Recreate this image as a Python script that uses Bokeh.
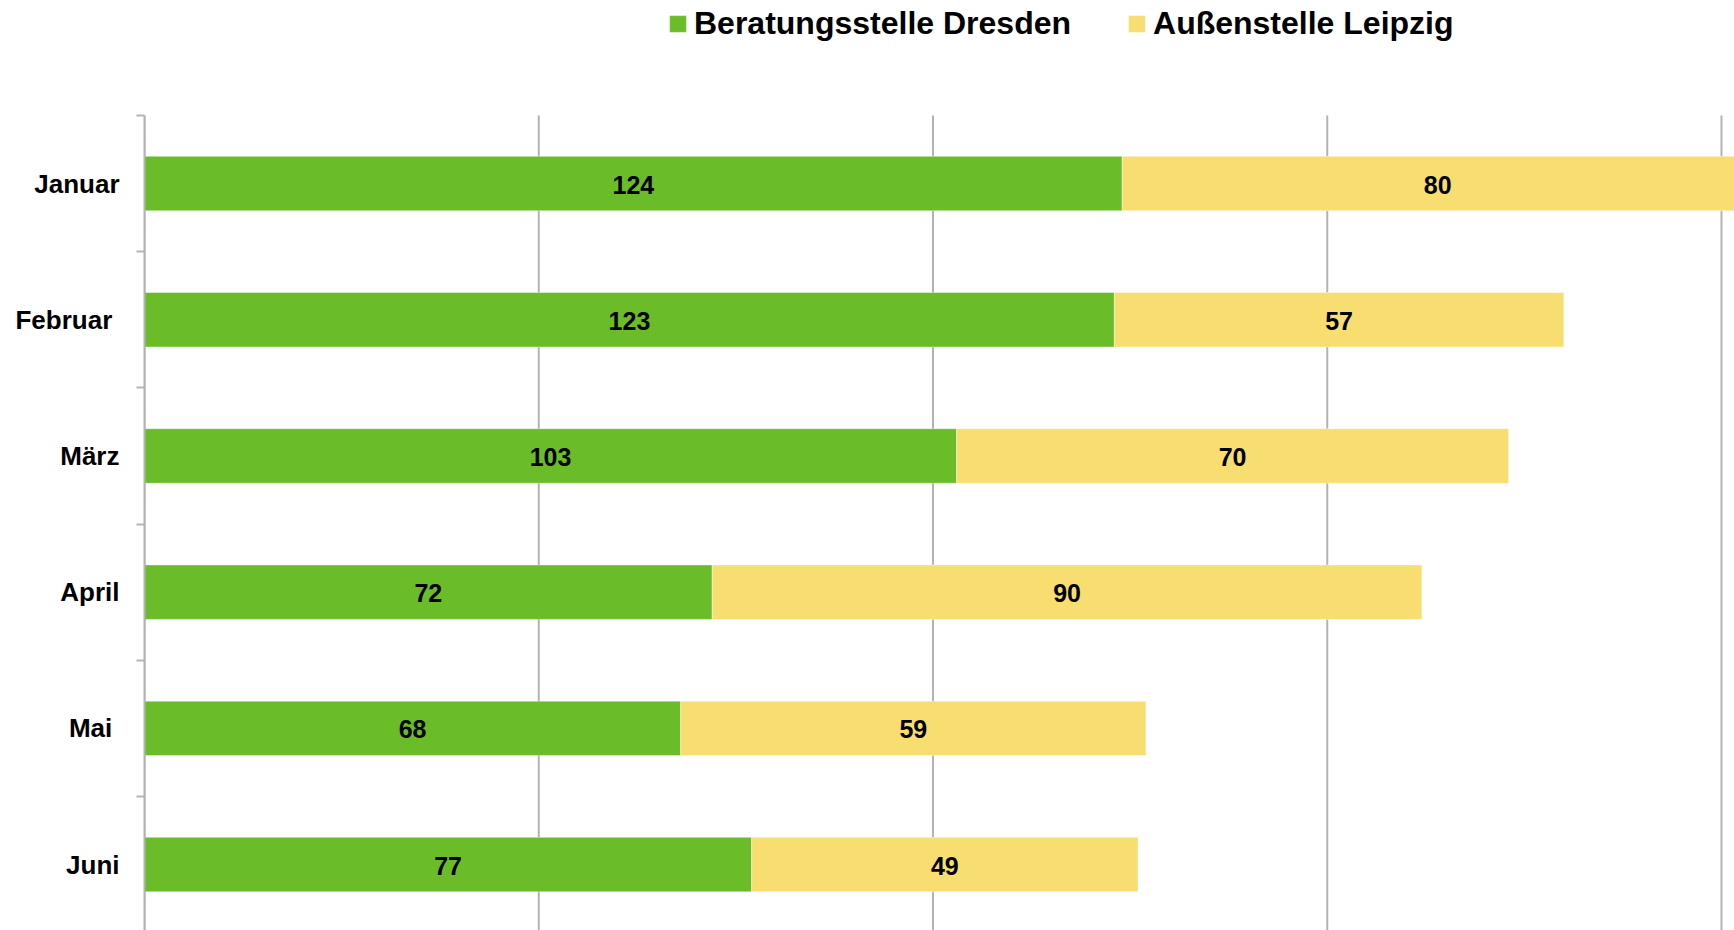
import numpy as np
from bokeh.plotting import figure
from bokeh.models import (Range1d, LinearAxis, FixedTicker, Grid, Legend, LegendItem,
                          ColumnDataSource)
from bokeh.core.properties import value
from bokeh.embed import file_html
from bokeh.resources import INLINE

months = ["Januar", "Februar ", "März", "April", "Mai ", "Juni"]
dresden = [124, 123, 103, 72, 68, 77]
leipzig = [80, 57, 70, 90, 59, 49]
series_names = ["Beratungsstelle Dresden", "Außenstelle Leipzig"]
x_ticks = [0, 50, 100, 150, 200]

GREEN = "#6abd29"
YELLOW = "#f8de70"
GRID = "#b3b3b3"
FONT = "Liberation Sans"

n = len(months)
ypos = np.arange(n) + 0.5
d = np.array(dresden, dtype=float)
l = np.array(leipzig, dtype=float)
total = d + l

src = ColumnDataSource(dict(
    y=ypos, d=d, total=total,
    dmid=d / 2, lmid=d + l / 2,
    dlab=[str(v) for v in dresden], llab=[str(v) for v in leipzig],
))

p = figure(width=1734, height=930, output_backend="svg", toolbar_location=None,
           x_range=Range1d(0, 201.65), y_range=Range1d(5.984, -0.844),
           x_axis_location=None, y_axis_location=None,
           min_border_left=144, min_border_top=0, min_border_right=0, min_border_bottom=0)
p.outline_line_color = None
p.background_fill_color = "white"
p.border_fill_color = "white"
p.center = [r for r in p.center if not isinstance(r, Grid)]

# vertical grid lines, limited to the category band
p.segment(x0=x_ticks, y0=0, x1=x_ticks, y1=n, line_color=GRID, line_width=2)

yaxis = LinearAxis(ticker=FixedTicker(ticks=list(ypos), minor_ticks=list(range(n + 1))),
                   bounds=(0, n))
yaxis.major_label_overrides = {float(y): m for y, m in zip(ypos, months)}
yaxis.axis_line_color = GRID
yaxis.axis_line_width = 2
yaxis.major_tick_out = 0
yaxis.major_tick_in = 0
yaxis.minor_tick_out = 8
yaxis.minor_tick_in = 0
yaxis.minor_tick_line_color = GRID
yaxis.minor_tick_line_width = 2
yaxis.major_label_standoff = 17
yaxis.major_label_text_font = FONT
yaxis.major_label_text_font_style = "bold"
yaxis.major_label_text_font_size = "26px"
yaxis.major_label_text_color = "black"
p.add_layout(yaxis, "left")

r1 = p.hbar(y="y", left=0, right="d", height=0.4, source=src,
            fill_color=GREEN, line_color="white", line_alpha=0.4, line_width=1)
r2 = p.hbar(y="y", left="d", right="total", height=0.4, source=src,
            fill_color=YELLOW, line_color="white", line_alpha=0.4, line_width=1)

for xcol, tcol in (("dmid", "dlab"), ("lmid", "llab")):
    p.text(x=xcol, y="y", text=tcol, source=src, text_align="center",
           text_baseline="middle", text_font=value(FONT), text_font_style="bold",
           text_font_size="25px", text_color="black", y_offset=1)

legend = Legend(items=[LegendItem(label=series_names[0], renderers=[r1]),
                       LegendItem(label=series_names[1], renderers=[r2])],
                orientation="horizontal", location=(523, 888))
legend.glyph_width = 21
legend.glyph_height = 21
legend.label_standoff = 6
legend.spacing = 55
legend.padding = 0
legend.margin = 0
legend.border_line_alpha = 0
legend.background_fill_alpha = 0
legend.label_text_font = FONT
legend.label_text_font_style = "bold"
legend.label_text_font_size = "32px"
legend.label_text_color = "black"
p.add_layout(legend, "center")

open("out.html", "w").write(file_html(p, INLINE))
